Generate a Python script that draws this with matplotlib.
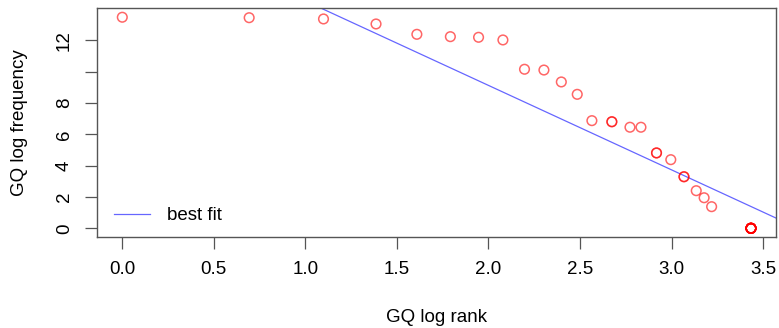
import matplotlib
matplotlib.use("Agg")
import matplotlib.pyplot as plt

# ---------------- data ----------------
# log rank (tied ranks share an averaged rank)
log_rank = [0.000, 0.693, 1.099, 1.386, 1.609, 1.792, 1.946, 2.079,
            2.197, 2.303, 2.398, 2.485, 2.565, 2.674, 2.674, 2.773,
            2.833, 2.918, 2.918, 2.996, 3.068, 3.068, 3.135, 3.178,
            3.219] + [3.434] * 11
log_freq = [13.47, 13.44, 13.36, 13.04, 12.38, 12.23, 12.19, 12.02,
            10.15, 10.10, 9.34, 8.55, 6.87, 6.80, 6.80, 6.45,
            6.45, 4.81, 4.81, 4.38, 3.29, 3.29, 2.40, 1.95,
            1.38] + [0.0] * 11

# best fit line (intercept, slope)
fit_intercept = 19.9
fit_slope = -5.39

x_ticks = [0.0, 0.5, 1.0, 1.5, 2.0, 2.5, 3.0, 3.5]
y_ticks = [0, 2, 4, 6, 8, 10, 12]
y_tick_labels = ["0", "2", "4", "6", "8", "", "12"]
# ---------------------------------------------------------

plt.rcParams["font.family"] = ["Liberation Sans", "DejaVu Sans"]
plt.rcParams["font.size"] = 13.5

W, H = 779, 328
fig = plt.figure(figsize=(W / 100, H / 100), dpi=100)
ax = fig.add_axes([97.3 / W, 1 - 236.7 / H, (775.7 - 97.3) / W, (236.7 - 8.3) / H])

ax.scatter(log_rank, log_freq, s=48, facecolors="none",
           edgecolors=(1, 0, 0, 0.6), linewidths=1.1, zorder=3)
ax.axline((0, fit_intercept), slope=fit_slope, color=(0, 0, 1, 0.6),
          linewidth=0.9, label="best fit", zorder=2)

ax.set_xlim(-0.1365, 3.569)
ax.set_ylim(-0.536, 14.04)

ax.set_xticks(x_ticks)
ax.set_xticklabels([f"{v:.1f}" for v in x_ticks])
ax.set_yticks(y_ticks)
ax.set_yticklabels(y_tick_labels, rotation=90, va="center")

ax.tick_params(direction="out", length=8.5, width=0.9, color="#555555",
               pad=9)
for s in ax.spines.values():
    s.set_color("#555555")
    s.set_linewidth(1.0)

ax.legend(loc="lower left", frameon=False, handlelength=1.93,
          handletextpad=0.89, fontsize=13.5,
          bbox_to_anchor=(0.0, -0.019))

fig.text((97.3 + 775.7) / 2 / W, 1 - 318 / H, "GQ log rank",
         ha="center", va="center")
fig.text(20 / W, 1 - 122.5 / H, "GQ log frequency",
         ha="center", va="center", rotation=90)

fig.savefig("out.png", dpi=100)
